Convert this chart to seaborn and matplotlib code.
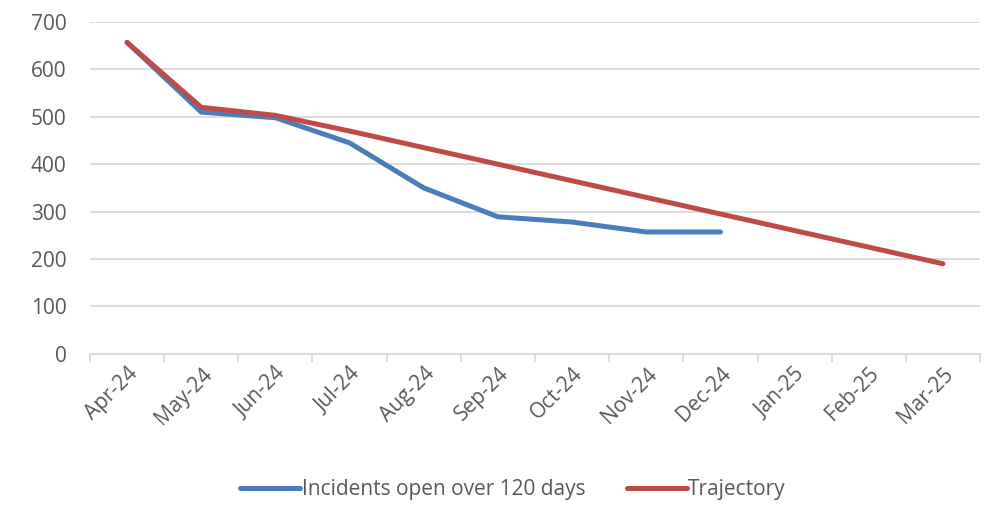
import numpy as np
import pandas as pd
import matplotlib
matplotlib.use("Agg")
import matplotlib.pyplot as plt
import seaborn as sns
from matplotlib.lines import Line2D

months = ["Apr-24", "May-24", "Jun-24", "Jul-24", "Aug-24", "Sep-24",
          "Oct-24", "Nov-24", "Dec-24", "Jan-25", "Feb-25", "Mar-25"]
incidents = [657, 510, 498, 445, 350, 289, 278, 257, 257]
trajectory = [657, 520, 503, 470, 435, 400, 365, 330, 295, 260, 225, 190]
series_names = ["Incidents open over 120 days", "Trajectory"]
yticks = [0, 100, 200, 300, 400, 500, 600, 700]

sns.set_theme(style="white")
plt.rcParams["font.family"] = ["Open Sans", "DejaVu Sans"]

rows = []
for i, v in enumerate(incidents):
    rows.append({"pos": i, "value": v, "series": series_names[0]})
for i, v in enumerate(trajectory):
    rows.append({"pos": i, "value": v, "series": series_names[1]})
df = pd.DataFrame(rows)

fig = plt.figure(figsize=(10, 5.12), dpi=100)
ax = fig.add_axes([0.09, 0.309, 0.89, 0.648])

palette = {series_names[0]: "#4A7EBB", series_names[1]: "#BE4B48"}
sns.lineplot(data=df, x="pos", y="value", hue="series", palette=palette,
             linewidth=3.6, ax=ax, legend=False, solid_capstyle="round")

grey_line = "#D9D9D9"
text_col = "#595959"

ax.set_xlim(-0.5, len(months) - 0.5)
ax.set_ylim(0, 700)
ax.set_yticks(yticks)
ax.yaxis.grid(True, color=grey_line, linewidth=1.3)
ax.set_axisbelow(True)
for side in ["top", "right", "left"]:
    ax.spines[side].set_visible(False)
ax.spines["bottom"].set_color(grey_line)
ax.spines["bottom"].set_linewidth(1.3)

ax.set_xticks(np.arange(len(months)))
ax.set_xticklabels(months, rotation=45, ha="right", rotation_mode="anchor",
                   fontsize=15, color=text_col)
ax.set_xticks(np.arange(-0.5, len(months)), minor=True)
ax.tick_params(axis="x", which="major", length=0, pad=7)
ax.tick_params(axis="x", which="minor", length=6, color=grey_line, width=1.3,
               direction="out", bottom=True)
ax.tick_params(axis="y", length=0, labelsize=15, labelcolor=text_col, pad=17)
ax.set_xlabel("")
ax.set_ylabel("")

handles = [Line2D([], [], color=palette[n], linewidth=3.6) for n in series_names]
fig.legend(handles, series_names, loc="center", bbox_to_anchor=(0.513, 0.044),
           ncol=2, frameon=False, fontsize=15, handlelength=2.9,
           handletextpad=0.05, columnspacing=2.0, labelcolor=text_col)

fig.savefig("out.png", dpi=100, facecolor="white")
